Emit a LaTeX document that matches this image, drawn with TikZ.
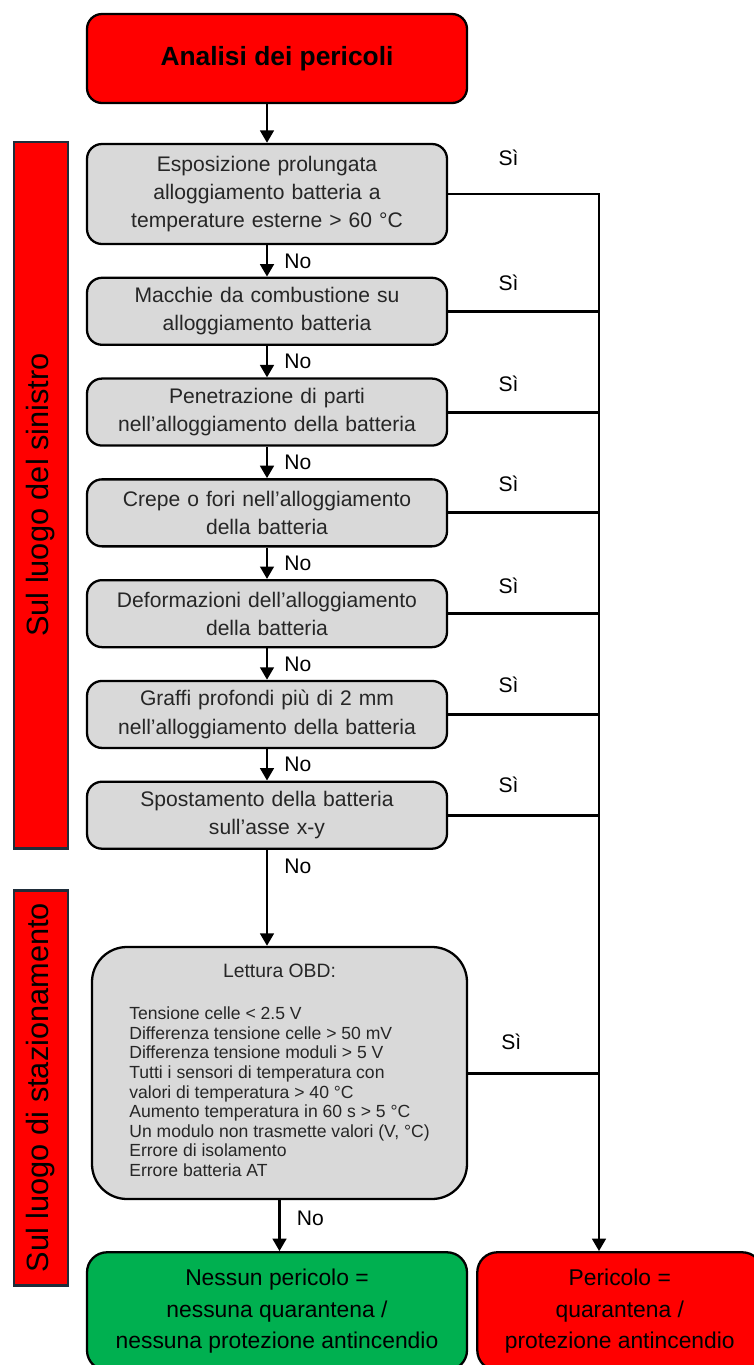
\documentclass[tikz,border=0pt]{standalone}
\usepackage{fontspec}
\setmainfont{Liberation Sans}
\usepackage{xcolor}
\usetikzlibrary{arrows.meta,positioning}

\definecolor{boxgray}{HTML}{D9D9D9}
\definecolor{alarmred}{HTML}{FF0000}
\definecolor{safegreen}{HTML}{00B050}
\definecolor{barframe}{HTML}{1F2D3A}

\begin{document}
\begin{tikzpicture}[
node distance=0.63cm,
headbox/.style={draw, line width=1.3pt, rounded corners=0.3cm, fill=alarmred, minimum width=7.6cm, minimum height=1.78cm, align=center, font=\fontsize{15}{18}\selectfont\bfseries},
checkbox/.style={draw, line width=1.3pt, rounded corners=0.3cm, fill=boxgray, minimum width=7.2cm, minimum height=1.34cm, text width=6.8cm, align=center, text=black!85, font=\fontsize{12}{16}\selectfont},
obdbox/.style={draw, line width=1.3pt, rounded corners=0.7cm, fill=boxgray, minimum width=7.5cm, minimum height=5.04cm, align=center, text=black!85, font=\fontsize{10}{11.1}\selectfont},
endbox/.style={draw, line width=1.3pt, rounded corners=0.4cm, minimum height=2.36cm, align=center, font=\fontsize{13}{18}\selectfont},
sidebar/.style={draw=barframe, line width=1.7pt, fill=alarmred, minimum height=1.08cm, inner sep=0pt, rotate=90, font=\fontsize{17.5}{20}\selectfont},
arrow/.style={-{Triangle[width=0.27cm,length=0.25cm]}, line width=1.7pt},
link/.style={line width=1.7pt},
silbl/.style={font=\fontsize{12}{14}\selectfont},
nolbl/.style={font=\fontsize{12}{14}\selectfont, right=0.2cm}
]
\useasboundingbox (0,0) rectangle (15.08,-27.3);

% fasi laterali
\node[sidebar, minimum width=14.12cm] (scene) at (0.82,-9.9) {Sul luogo del sinistro};
\node[sidebar, minimum width=7.9cm] (parking) at (0.82,-21.75) {Sul luogo di stazionamento};

% controlli
\node[headbox] (title) at (5.54,-1.17) {Analisi dei pericoli};
\node[checkbox, minimum height=2cm] (b1) at (5.34,-3.88) {Esposizione prolungata\\ alloggiamento batteria a\\ temperature esterne > 60 °C};
\node[checkbox, below=of b1] (b2) {Macchie da combustione su\\ alloggiamento batteria};
\node[checkbox, below=of b2] (b3) {Penetrazione di parti\\ nell'alloggiamento della batteria};
\node[checkbox, below=of b3] (b4) {Crepe o fori nell'alloggiamento\\ della batteria};
\node[checkbox, below=of b4] (b5) {Deformazioni dell'alloggiamento\\ della batteria};
\node[checkbox, below=of b5] (b6) {Graffi profondi più di 2 mm\\ nell'alloggiamento della batteria};
\node[checkbox, below=of b6] (b7) {Spostamento della batteria\\ sull'asse x-y};
\node[obdbox, below=1.92cm of b7, xshift=0.25cm] (obd) {{\fontsize{11}{13}\selectfont Lettura OBD:}\\[13pt]
\begin{tabular}[t]{@{}l@{}}
Tensione celle < 2.5 V\\
Differenza tensione celle > 50 mV\\
Differenza tensione moduli > 5 V\\
Tutti i sensori di temperatura con\\
valori di temperatura > 40 °C\\
Aumento temperatura in 60 s > 5 °C\\
Un modulo non trasmette valori (V, °C)\\
Errore di isolamento\\
Errore batteria AT
\end{tabular}};

% esiti
\node[endbox, fill=safegreen, minimum width=7.6cm, below=1.02cm of obd, xshift=-0.05cm] (none) {Nessun pericolo =\\ nessuna quarantena /\\ nessuna protezione antincendio};
\node[endbox, fill=alarmred, minimum width=5.7cm, right=0.16cm of none] (danger) {Pericolo =\\ quarantena /\\ protezione antincendio};

\coordinate (bus) at (11.98,-3.88);

% ramo No
\draw[arrow] (b1.north |- title.south) -- (b1.north);
\draw[arrow] (b1) -- node[nolbl]{No} (b2);
\draw[arrow] (b2) -- node[nolbl]{No} (b3);
\draw[arrow] (b3) -- node[nolbl]{No} (b4);
\draw[arrow] (b4) -- node[nolbl]{No} (b5);
\draw[arrow] (b5) -- node[nolbl]{No} (b6);
\draw[arrow] (b6) -- node[nolbl]{No} (b7);
\draw[arrow] (b7.south) -- node[nolbl, pos=0.17]{No} (b7.south |- obd.north);
\draw[arrow] (obd.south) -- node[nolbl, pos=0.35]{No} (obd.south |- none.north);

% ramo Sì
\draw[arrow] (b1.east) -- node[silbl, pos=0.4, yshift=0.72cm]{Sì} (bus) -- (bus |- danger.north);
\draw[link] (b2.east) -- node[silbl, pos=0.4, yshift=0.56cm]{Sì} (b2.east -| bus);
\draw[link] (b3.east) -- node[silbl, pos=0.4, yshift=0.56cm]{Sì} (b3.east -| bus);
\draw[link] (b4.east) -- node[silbl, pos=0.4, yshift=0.58cm]{Sì} (b4.east -| bus);
\draw[link] (b5.east) -- node[silbl, pos=0.4, yshift=0.56cm]{Sì} (b5.east -| bus);
\draw[link] (b6.east) -- node[silbl, pos=0.4, yshift=0.6cm]{Sì} (b6.east -| bus);
\draw[link] (b7.east) -- node[silbl, pos=0.4, yshift=0.6cm]{Sì} (b7.east -| bus);
\draw[link] (obd.east) -- node[silbl, pos=0.33, yshift=0.62cm]{Sì} (obd.east -| bus);
\end{tikzpicture}
\end{document}
